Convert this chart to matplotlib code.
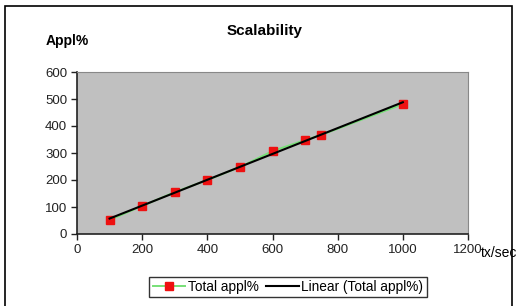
import numpy as np
import matplotlib
matplotlib.use("Agg")
import matplotlib.pyplot as plt
from matplotlib.patches import Rectangle

# values
tx_sec = [100, 200, 300, 400, 500, 600, 700, 750, 1000]
appl_pct = [52, 104, 155, 200, 248, 307, 348, 367, 481]

plt.rcParams['font.family'] = ['Liberation Sans', 'DejaVu Sans']

fig = plt.figure(figsize=(5.17, 3.06), dpi=100)
ax = fig.add_axes([77/517, 72/306, 391/517, 162/306])
ax.set_facecolor('#c0c0c0')

# series and linear trendline
ax.plot(tx_sec, appl_pct, color='#77e077', linewidth=1.4, marker='s',
        markersize=6, markerfacecolor='#ee1111', markeredgecolor='#ee1111',
        label='Total appl%', zorder=3)
k, b = np.polyfit(tx_sec, appl_pct, 1)
xs = np.array([min(tx_sec), max(tx_sec)])
ax.plot(xs, k * xs + b, color='black', linewidth=1.5,
        label='Linear (Total appl%)', zorder=4)

ax.set_xlim(0, 1200)
ax.set_ylim(0, 600)
ax.set_xticks(range(0, 1201, 200))
ax.set_yticks(range(0, 601, 100))
ax.tick_params(labelsize=9.5, length=4, width=1, colors='#222222', pad=3)
for s in ['top', 'right']:
    ax.spines[s].set_color('#888888')
for s in ['left', 'bottom']:
    ax.spines[s].set_color('#222222')
    ax.spines[s].set_linewidth(1.2)

fig.text(265/517, 1 - 31/306, 'Scalability', ha='center', va='center',
         fontsize=11, fontweight='bold')
fig.text(46/517, 1 - 41/306, 'Appl%', ha='left', va='center',
         fontsize=10, fontweight='bold')
fig.text(481/517, 1 - 253/306, 'tx/sec', ha='left', va='center',
         fontsize=10)

leg = fig.legend(loc='center', bbox_to_anchor=(288/517, 1 - 287/306),
                 ncol=2, fontsize=9.8, frameon=True, fancybox=False,
                 handlelength=2.4, handletextpad=0.2, columnspacing=0.5,
                 borderpad=0.25)
leg.get_frame().set_edgecolor('black')
leg.get_frame().set_linewidth(1)

fig.patches.append(Rectangle((5/517, -0.05), 507/517, 1 - 6/306 + 0.05,
                             transform=fig.transFigure, fill=False,
                             edgecolor='black', linewidth=1.2))

fig.savefig('out.png', dpi=100)
